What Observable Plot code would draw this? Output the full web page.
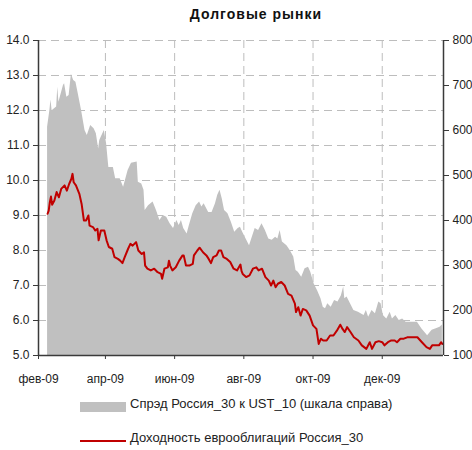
<!DOCTYPE html>
<html>
<head>
<meta charset="utf-8">
<script src="https://cdn.jsdelivr.net/npm/d3@7"></script>
<script src="https://cdn.jsdelivr.net/npm/@observablehq/plot@0.6"></script>
<style>
  html, body { margin: 0; padding: 0; background: #fff; }
  #wrap { position: relative; width: 472px; height: 450px; font-family: "Liberation Sans Narrow", "Arial Narrow", "Liberation Sans", Arial, sans-serif; color: #222; }
  #title { position: absolute; left: 0; width: 512px; top: 6px; text-align: center; font: bold 14px "Liberation Sans", Arial, sans-serif; letter-spacing: 1px; color: #111; }
  #chart { position: absolute; left: 0; top: 0; }
  .sw { position: absolute; }
  .lt { position: absolute; left: 130px; font-size: 13px; white-space: nowrap; color: #222; }
</style>
</head>
<body>
<div id="wrap">
  <div id="chart"></div>
  <div id="title"></div>
  <div class="sw" id="sw1" style="left:80px;top:402px;width:46px;height:10px;background:#c0c0c0"></div>
  <div class="lt" id="lt1" style="top:396px"></div>
  <div class="sw" id="sw2" style="left:80px;top:440px;width:46px;height:2px;background:#c00000"></div>
  <div class="lt" id="lt2" style="top:430px"></div>
</div>
<script>
const titleText = "Долговые рынки";
const seriesNames = ["Спрэд Россия_30 к UST_10 (шкала справа)", "Доходность еврооблигаций Россия_30"];
const monthNames = ["янв","фев","мар","апр","май","июн","июл","авг","сен","окт","ноя","дек"];
const xDomain = ["2009-02-01", "2010-01-24"];
const leftTicks = [5, 6, 7, 8, 9, 10, 11, 12, 13, 14];
const rightTicks = [100, 200, 300, 400, 500, 600, 700, 800];

const spreadDates = ["2009-02-09","2009-02-11","2009-02-12","2009-02-13","2009-02-17","2009-02-18","2009-02-19","2009-02-23","2009-02-24","2009-02-26","2009-02-28","2009-03-02","2009-03-04","2009-03-06","2009-03-08","2009-03-11","2009-03-14","2009-03-16","2009-03-19","2009-03-22","2009-03-24","2009-03-26","2009-03-27","2009-03-31","2009-04-02","2009-04-04","2009-04-08","2009-04-10","2009-04-14","2009-04-17","2009-04-21","2009-04-24","2009-04-29","2009-04-30","2009-05-03","2009-05-05","2009-05-06","2009-05-09","2009-05-13","2009-05-16","2009-05-19","2009-05-22","2009-05-25","2009-05-28","2009-05-31","2009-06-03","2009-06-05","2009-06-07","2009-06-09","2009-06-12","2009-06-14","2009-06-17","2009-06-20","2009-06-23","2009-06-25","2009-06-27","2009-07-01","2009-07-04","2009-07-07","2009-07-09","2009-07-11","2009-07-13","2009-07-15","2009-07-18","2009-07-21","2009-07-24","2009-07-27","2009-07-29","2009-07-31","2009-08-03","2009-08-06","2009-08-11","2009-08-14","2009-08-17","2009-08-20","2009-08-23","2009-08-26","2009-08-29","2009-08-31","2009-09-02","2009-09-04","2009-09-08","2009-09-11","2009-09-14","2009-09-16","2009-09-18","2009-09-21","2009-09-24","2009-09-27","2009-09-29","2009-10-02","2009-10-05","2009-10-08","2009-10-10","2009-10-12","2009-10-14","2009-10-17","2009-10-20","2009-10-23","2009-10-26","2009-10-28","2009-10-29","2009-10-31","2009-11-03","2009-11-06","2009-11-10","2009-11-15","2009-11-17","2009-11-19","2009-11-22","2009-11-25","2009-11-28","2009-11-30","2009-12-02","2009-12-05","2009-12-08","2009-12-10","2009-12-13","2009-12-16","2009-12-19","2009-12-22","2009-12-25","2010-01-01","2010-01-05","2010-01-10","2010-01-14","2010-01-17","2010-01-21","2010-01-23"];
const spreadValues = [607,644,668,644,652,696,663,700,704,674,678,725,711,707,682,644,600,589,611,604,593,559,578,600,571,518,518,493,493,474,511,527,530,485,481,467,422,433,441,422,400,411,407,393,382,400,389,400,382,370,389,415,433,441,430,437,418,418,437,456,467,448,422,415,396,374,382,385,374,359,344,382,378,393,378,359,356,363,359,378,352,344,333,319,289,285,274,293,296,285,259,244,226,207,204,215,207,222,219,233,252,226,230,215,200,196,189,200,185,200,193,219,215,189,181,196,181,189,178,181,174,174,174,159,144,156,159,163,168];

const yieldDates = ["2009-02-09","2009-02-10","2009-02-11","2009-02-12","2009-02-13","2009-02-15","2009-02-17","2009-02-19","2009-02-21","2009-02-24","2009-02-26","2009-02-28","2009-03-02","2009-03-03","2009-03-04","2009-03-06","2009-03-09","2009-03-11","2009-03-13","2009-03-15","2009-03-17","2009-03-18","2009-03-21","2009-03-23","2009-03-25","2009-03-26","2009-03-28","2009-03-31","2009-04-02","2009-04-04","2009-04-07","2009-04-09","2009-04-12","2009-04-14","2009-04-16","2009-04-18","2009-04-21","2009-04-23","2009-04-25","2009-04-28","2009-04-30","2009-05-03","2009-05-05","2009-05-06","2009-05-08","2009-05-11","2009-05-14","2009-05-17","2009-05-20","2009-05-21","2009-05-23","2009-05-26","2009-05-27","2009-05-28","2009-05-30","2009-06-02","2009-06-05","2009-06-08","2009-06-09","2009-06-11","2009-06-14","2009-06-17","2009-06-18","2009-06-21","2009-06-23","2009-06-26","2009-06-29","2009-07-01","2009-07-03","2009-07-05","2009-07-08","2009-07-10","2009-07-12","2009-07-14","2009-07-17","2009-07-20","2009-07-23","2009-07-26","2009-07-29","2009-07-30","2009-07-31","2009-08-03","2009-08-06","2009-08-09","2009-08-12","2009-08-14","2009-08-17","2009-08-20","2009-08-23","2009-08-25","2009-08-27","2009-08-29","2009-08-31","2009-09-03","2009-09-06","2009-09-09","2009-09-12","2009-09-15","2009-09-16","2009-09-18","2009-09-20","2009-09-22","2009-09-25","2009-09-28","2009-10-01","2009-10-04","2009-10-06","2009-10-08","2009-10-10","2009-10-13","2009-10-16","2009-10-19","2009-10-22","2009-10-25","2009-10-27","2009-10-29","2009-10-31","2009-11-03","2009-11-06","2009-11-10","2009-11-13","2009-11-17","2009-11-20","2009-11-22","2009-11-25","2009-11-28","2009-12-01","2009-12-03","2009-12-06","2009-12-09","2009-12-12","2009-12-14","2009-12-17","2009-12-20","2009-12-23","2009-12-28","2010-01-01","2010-01-05","2010-01-09","2010-01-12","2010-01-14","2010-01-20","2010-01-22","2010-01-23"];
const yieldValues = [9.05,9.14,9.38,9.54,9.31,9.43,9.67,9.52,9.76,9.86,9.71,9.90,10.05,10.19,9.95,9.86,9.62,9.33,8.86,8.86,9.00,8.71,8.67,8.57,8.62,8.29,8.57,8.57,8.29,8.10,8.05,7.81,7.76,7.71,7.64,7.81,8.05,8.19,8.14,8.24,8.00,7.90,7.95,7.57,7.48,7.43,7.48,7.38,7.33,7.19,7.48,7.52,7.71,7.57,7.43,7.52,7.71,7.86,7.86,7.57,7.57,7.62,7.86,8.00,8.08,7.95,7.86,7.76,7.64,7.81,7.86,8.00,8.00,7.81,7.76,7.67,7.48,7.43,7.60,7.41,7.33,7.24,7.29,7.48,7.52,7.43,7.48,7.24,7.14,7.00,7.14,6.95,7.05,7.10,7.00,6.76,6.71,6.48,6.24,6.38,6.14,6.33,6.29,6.14,5.86,5.76,5.33,5.48,5.43,5.43,5.57,5.57,5.71,5.88,5.76,5.67,5.81,5.67,5.52,5.43,5.29,5.19,5.38,5.19,5.38,5.41,5.38,5.29,5.38,5.43,5.43,5.38,5.48,5.48,5.52,5.52,5.52,5.38,5.24,5.19,5.29,5.29,5.38,5.33];

const parse = d3.utcParse("%Y-%m-%d");
const yMin = leftTicks[0], yMax = leftTicks[leftTicks.length - 1];
const rMin = rightTicks[0], rMax = rightTicks[rightTicks.length - 1];
const toLeft = v => yMin + (v - rMin) * (yMax - yMin) / (rMax - rMin);
const fromLeft = y => rMin + (y - yMin) * (rMax - rMin) / (yMax - yMin);

const spread = spreadDates.map((d, i) => ({date: parse(d), v: toLeft(spreadValues[i])}));
const yields = yieldDates.map((d, i) => ({date: parse(d), v: yieldValues[i]}));
const xd = xDomain.map(parse);
const xTicks = d3.utcMonth.range(xd[0], xd[1], 2);
const monthFmt = d => monthNames[d.getUTCMonth()] + "-" + String(d.getUTCFullYear()).slice(2);

const gridStyle = {stroke: "#bdbdbd", strokeOpacity: 1, strokeDasharray: "8,5", strokeWidth: 1};
const axisColor = "#3a3a3a";

const chart = Plot.plot({
  width: 472,
  height: 392,
  marginTop: 40,
  marginBottom: 37,
  marginLeft: 38,
  marginRight: 29,
  style: {fontFamily: '"Liberation Sans Narrow", "Arial Narrow", "Liberation Sans", Arial, sans-serif', fontSize: "12px", color: "#222", background: "transparent"},
  x: {type: "utc", domain: xd},
  y: {domain: [yMin, yMax]},
  marks: [
    Plot.gridY(leftTicks.slice(1), gridStyle),
    Plot.gridX(xTicks.slice(1), gridStyle),
    Plot.areaY(spread, {x: "date", y1: yMin, y2: "v", fill: "#c0c0c0", curve: "linear"}),
    Plot.lineY(yields, {x: "date", y: "v", stroke: "#c00000", strokeWidth: 2, curve: "linear"}),
    Plot.ruleY([yMin], {stroke: axisColor, strokeWidth: 1.5}),
    Plot.ruleX(xd, {stroke: axisColor, strokeWidth: 1.5}),
    Plot.axisY(leftTicks, {anchor: "left", tickFormat: d3.format(".1f"), tickSize: 5, tickPadding: 4, stroke: axisColor, label: null}),
    Plot.axisY(rightTicks.map(toLeft), {anchor: "right", tickFormat: d => String(Math.round(fromLeft(d))), tickSize: 5, tickPadding: 4, stroke: axisColor, label: null}),
    Plot.axisX(xTicks, {anchor: "bottom", tickFormat: monthFmt, tickSize: 4, tickPadding: 15, stroke: axisColor, label: null})
  ]
});
document.getElementById("chart").appendChild(chart);
document.getElementById("title").textContent = titleText;
document.getElementById("lt1").textContent = seriesNames[0];
document.getElementById("lt2").textContent = seriesNames[1];
</script>
</body>
</html>
